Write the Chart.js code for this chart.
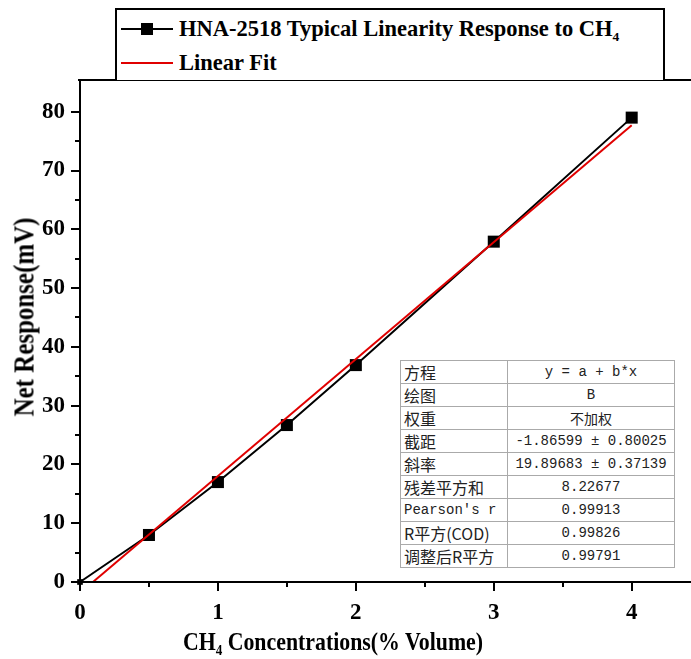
<!DOCTYPE html>
<html>
<head>
<meta charset="utf-8">
<script src="https://cdn.jsdelivr.net/npm/chart.js@4"></script>
<style>
  body { margin: 0; background: #fff; }
  #wrap { position: relative; width: 691px; height: 659px; overflow: hidden; }
  canvas { position: absolute; left: 0; top: 0; }
  .serif { font-family: "Liberation Serif", "DejaVu Serif", serif; font-weight: bold; color: #000; }
  #legend {
    position: absolute; left: 115px; top: 8px; width: 546px; height: 70px;
    border: 2px solid #000; border-bottom: none; background: #fff; font-size: 22.5px;
  }
  .leg-row { position: absolute; left: 0; height: 34px; line-height: 34px; white-space: nowrap; }
  .leg-row span.txt { position: absolute; left: 62px; }
  .leg-line { position: absolute; left: 4px; top: 16px; width: 52px; height: 2px; }
  .leg-mark { position: absolute; left: 24px; top: 11px; width: 12px; height: 12px; background: #000; }
  sub { font-size: 60%; vertical-align: -0.35em; }
  #xtitle {
    position: absolute; left: 333px; top: 643px; font-size: 26px; white-space: nowrap;
    transform: translate(-50%, -50%) scaleX(0.84);
  }
  #ytitle {
    position: absolute; left: 24px; top: 317px; font-size: 29px; white-space: nowrap;
    transform: translate(-50%, -50%) rotate(-90deg) scaleX(0.86);
  }
  #stats {
    position: absolute; left: 400px; top: 360px; border-collapse: collapse; background: #fff;
    font-family: "Liberation Mono", "Noto Sans CJK SC", monospace; font-size: 14px; color: #222;
    border: 1.5px solid #555;
  }
  #stats td { border: 1px solid #aaa; height: 22px; padding: 0 3px; line-height: 22px; }
  #stats td:first-child { width: 100px; font-family: "Noto Sans CJK SC", sans-serif; font-size: 16px; }
  #stats td:last-child { width: 160px; text-align: center; }
  #stats td.mono { font-family: "Liberation Mono", monospace; font-size: 14px; }
</style>
</head>
<body>
<div id="wrap">
  <canvas id="chart" width="691" height="659"></canvas>

  <div id="legend" class="serif">
    <div class="leg-row" style="top:2px">
      <div class="leg-line" style="background:#000"></div>
      <div class="leg-mark"></div>
      <span class="txt">HNA-2518 Typical Linearity Response to CH<sub>4</sub></span>
    </div>
    <div class="leg-row" style="top:36px">
      <div class="leg-line" style="background:#e00000"></div>
      <span class="txt">Linear Fit</span>
    </div>
  </div>

  <div id="ytitle" class="serif">Net Response(mV)</div>
  <div id="xtitle" class="serif">CH<sub>4</sub> Concentrations(% Volume)</div>

  <table id="stats">
    <tr><td>方程</td><td>y = a + b*x</td></tr>
    <tr><td>绘图</td><td>B</td></tr>
    <tr><td>权重</td><td style="font-family:'Noto Sans CJK SC',sans-serif">不加权</td></tr>
    <tr><td>截距</td><td>-1.86599 ± 0.80025</td></tr>
    <tr><td>斜率</td><td>19.89683 ± 0.37139</td></tr>
    <tr><td>残差平方和</td><td>8.22677</td></tr>
    <tr><td class="mono">Pearson's r</td><td>0.99913</td></tr>
    <tr><td>R平方(COD)</td><td>0.99826</td></tr>
    <tr><td>调整后R平方</td><td>0.99791</td></tr>
  </table>
</div>

<script>
// ── Data ──
const concentrations = [0, 0.5, 1, 1.5, 2, 3, 4];
const responses      = [0, 8, 17, 26.7, 36.9, 57.9, 79];

// linear fit end points
const fitX = [0.094, 4];
const fitY = [0, 77.72];

// ── Axis ticks ──
const xTicks      = [0, 0.5, 1, 1.5, 2, 2.5, 3, 3.5, 4];
const xLabelTicks = [0, 1, 2, 3, 4];
const yTicks      = [0, 5, 10, 15, 20, 25, 30, 35, 40, 45, 50, 55, 60, 65, 70, 75, 80];
const yLabelTicks = [0, 10, 20, 30, 40, 50, 60, 70, 80];

const X_MAX = 4.43;
const Y_MAX = 85.4;

const tickFont = { family: "'Liberation Serif', serif", weight: "bold", size: 23 };

// ── Tick marks + frame drawn on the scales ──
const frameTicks = {
  id: "frameTicks",
  afterDraw(chart) {
    const ctx  = chart.ctx;
    const area = chart.chartArea;
    const xs   = chart.scales.x;
    const ys   = chart.scales.y;
    ctx.save();
    ctx.strokeStyle = "#000";
    ctx.lineWidth = 2;
    ctx.beginPath();
    // frame: left, bottom, top
    ctx.moveTo(area.left, area.top);
    ctx.lineTo(area.left, area.bottom + 9);
    ctx.moveTo(area.left - 9, area.bottom);
    ctx.lineTo(area.right, area.bottom);
    ctx.moveTo(area.left - 2, area.top);
    ctx.lineTo(area.right, area.top);
    xTicks.forEach(v => {
      const px  = Math.round(xs.getPixelForValue(v));
      const len = xLabelTicks.includes(v) ? 9 : 5;
      ctx.moveTo(px, area.bottom);
      ctx.lineTo(px, area.bottom + len);
    });
    yTicks.forEach(v => {
      const py  = Math.round(ys.getPixelForValue(v));
      const len = yLabelTicks.includes(v) ? 9 : 5;
      ctx.moveTo(area.left, py);
      ctx.lineTo(area.left - len, py);
    });
    ctx.stroke();
    ctx.restore();
  },
};

new Chart(document.getElementById("chart"), {
  type: "scatter",
  data: {
    datasets: [
      {
        label: "Linear Fit",
        data: fitX.map((x, i) => ({ x, y: fitY[i] })),
        showLine: true,
        borderColor: "#e00000",
        borderWidth: 2,
        pointRadius: 0,
        order: 0,
      },
      {
        label: "HNA-2518 Typical Linearity Response to CH4",
        data: concentrations.map((x, i) => ({ x, y: responses[i] })),
        showLine: true,
        borderColor: "#000",
        borderWidth: 2,
        pointStyle: "rect",
        pointRadius: ctx => (ctx.dataIndex === 0 ? 4 : 8.5),
        pointBackgroundColor: "#000",
        pointBorderWidth: 0,
        order: 1,
      },
    ],
  },
  options: {
    responsive: false,
    animation: false,
    clip: false,
    layout: { autoPadding: false, padding: { top: 80, right: 0, left: 0, bottom: 0 } },
    plugins: { legend: { display: false }, tooltip: { enabled: false } },
    scales: {
      x: {
        type: "linear",
        min: 0,
        max: X_MAX,
        afterBuildTicks: s => { s.ticks = xTicks.map(v => ({ value: v })); },
        afterFit: s => { s.height = 77; },
        grid: { display: false },
        border: { display: false },
        ticks: {
          font: tickFont,
          color: "#000",
          padding: 9,
          maxRotation: 0,
          autoSkip: false,
          callback: v => (xLabelTicks.includes(v) ? String(v) : ""),
        },
      },
      y: {
        type: "linear",
        min: 0,
        max: Y_MAX,
        afterBuildTicks: s => { s.ticks = yTicks.map(v => ({ value: v })); },
        afterFit: s => { s.width = 80; },
        grid: { display: false },
        border: { display: false },
        ticks: {
          font: tickFont,
          color: "#000",
          padding: 7,
          autoSkip: false,
          callback: v => (yLabelTicks.includes(v) ? String(v) : ""),
        },
      },
    },
  },
  plugins: [frameTicks],
});
</script>
</body>
</html>
